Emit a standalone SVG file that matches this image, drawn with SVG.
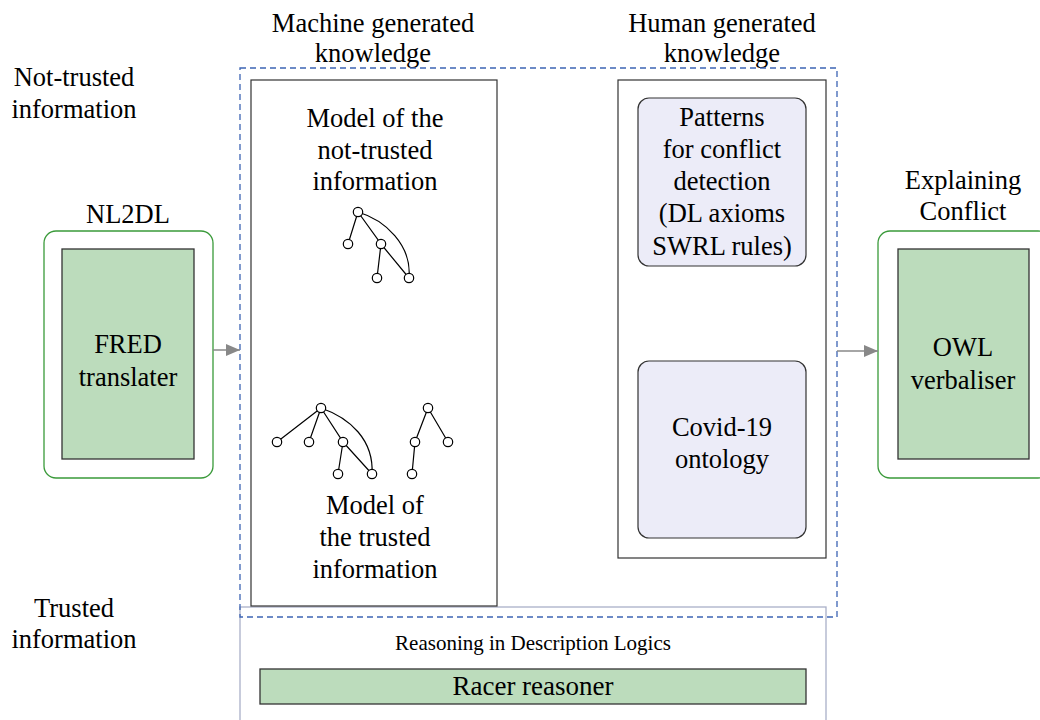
<svg xmlns="http://www.w3.org/2000/svg" width="1040" height="720" viewBox="0 0 1040 720">
<defs>
<style>
text{fill:#000;text-anchor:middle}
.t{font-family:"Liberation Serif","Times New Roman",serif;font-size:26.5px}
.s{font-family:"Liberation Serif","Times New Roman",serif;font-size:21px}
.outer{fill:#fff;stroke:#3a9a3a;stroke-width:1.3}
.green{fill:#bcdcbc;stroke:#333;stroke-width:1.3}
.box{fill:#fff;stroke:#333;stroke-width:1.2}
.lav{fill:#ececf8;stroke:#333;stroke-width:1.2}
.edge{fill:none;stroke:#000;stroke-width:1.2}
.nd{fill:#fff;stroke:#000;stroke-width:1.2}
.conn{stroke:#888;stroke-width:1.5;fill:none}
</style>
<marker id="ah" markerWidth="14" markerHeight="12" refX="14" refY="6" orient="auto" markerUnits="userSpaceOnUse">
<path d="M0,0 L14,6 L0,12 z" fill="#888"/>
</marker>
</defs>
<rect width="1040" height="720" fill="#fff"/>

<g id="labels">
<text class="t" x="373" y="32">Machine generated</text>
<text class="t" x="373" y="62">knowledge</text>
<text class="t" x="722" y="32">Human generated</text>
<text class="t" x="722" y="62">knowledge</text>
<text class="t" x="74" y="86">Not-trusted</text>
<text class="t" x="74" y="118">information</text>
<text class="t" x="74" y="617">Trusted</text>
<text class="t" x="74" y="648">information</text>
</g>

<g id="reasoning">
<rect x="240" y="607" width="586" height="120" fill="#fff" stroke="#aab0c8" stroke-width="1.3"/>
<text class="s" x="533" y="650">Reasoning in Description Logics</text>
</g>
<g id="racer">
<rect class="green" x="260" y="669" width="546" height="35"/>
<text class="t" x="533" y="695" style="font-size:27px">Racer reasoner</text>
</g>

<g id="machine">
<rect class="box" x="251" y="80" width="246" height="526"/>
<text class="t" x="375" y="127">Model of the</text>
<text class="t" x="375" y="159">not-trusted</text>
<text class="t" x="375" y="190">information</text>
<text class="t" x="375" y="514">Model of</text>
<text class="t" x="375" y="546">the trusted</text>
<text class="t" x="375" y="578">information</text>
</g>

<g id="tree1">
<path class="edge" d="M358,212 L348,244 M358,212 L381,244 L377,278 M381,244 L409,278 M358,212 C385,220 412,245 409,278"/>
<circle class="nd" cx="358" cy="212" r="4.7"/>
<circle class="nd" cx="348" cy="244" r="4.7"/>
<circle class="nd" cx="381" cy="244" r="4.7"/>
<circle class="nd" cx="377" cy="278" r="4.7"/>
<circle class="nd" cx="409" cy="278" r="4.7"/>
</g>
<g id="tree2">
<path class="edge" d="M321,408 L277,442 M321,408 L309,442 M321,408 L343,442 L338,474 M343,442 L372,474 M321,408 C350,418 374,440 372,474"/>
<circle class="nd" cx="321" cy="408" r="4.7"/>
<circle class="nd" cx="277" cy="442" r="4.7"/>
<circle class="nd" cx="309" cy="442" r="4.7"/>
<circle class="nd" cx="343" cy="442" r="4.7"/>
<circle class="nd" cx="338" cy="474" r="4.7"/>
<circle class="nd" cx="372" cy="474" r="4.7"/>
</g>
<g id="tree3">
<path class="edge" d="M428,408 L415,442 L412,474 M428,408 L448,442"/>
<circle class="nd" cx="428" cy="408" r="4.7"/>
<circle class="nd" cx="415" cy="442" r="4.7"/>
<circle class="nd" cx="448" cy="442" r="4.7"/>
<circle class="nd" cx="412" cy="474" r="4.7"/>
</g>

<g id="human">
<rect class="box" x="618" y="80" width="208" height="478"/>
</g>
<g id="patterns">
<rect class="lav" x="638" y="98" width="168" height="168" rx="11"/>
<text class="t" x="722" y="126">Patterns</text>
<text class="t" x="722" y="158">for conflict</text>
<text class="t" x="722" y="190">detection</text>
<text class="t" x="722" y="222">(DL axioms</text>
<text class="t" x="722" y="255">SWRL rules)</text>
</g>
<g id="covid">
<rect class="lav" x="638" y="361" width="168" height="177" rx="11"/>
<text class="t" x="722" y="436">Covid-19</text>
<text class="t" x="722" y="468">ontology</text>
</g>

<g id="kb">
<rect x="240" y="68" width="597" height="549" fill="none" stroke="#3c64b4" stroke-width="1.3" stroke-dasharray="6,4"/>
</g>

<g id="nl2dl">
<text class="t" x="128" y="223">NL2DL</text>
<rect class="outer" x="44" y="231" width="169" height="247" rx="12"/>
<rect class="green" x="62" y="249" width="132" height="210"/>
<text class="t" x="128" y="353">FRED</text>
<text class="t" x="128" y="386">translater</text>
</g>

<g id="explain">
<text class="t" x="963" y="189">Explaining</text>
<text class="t" x="963" y="220">Conflict</text>
<rect class="outer" x="878" y="231" width="172" height="247" rx="12"/>
<rect class="green" x="898" y="249" width="131" height="210"/>
<text class="t" x="963" y="356">OWL</text>
<text class="t" x="963" y="389">verbaliser</text>
</g>

<g id="connectors">
<line class="conn" x1="213" y1="350" x2="240" y2="350" marker-end="url(#ah)"/>
<line class="conn" x1="837" y1="351" x2="878" y2="351" marker-end="url(#ah)"/>
</g>
</svg>
